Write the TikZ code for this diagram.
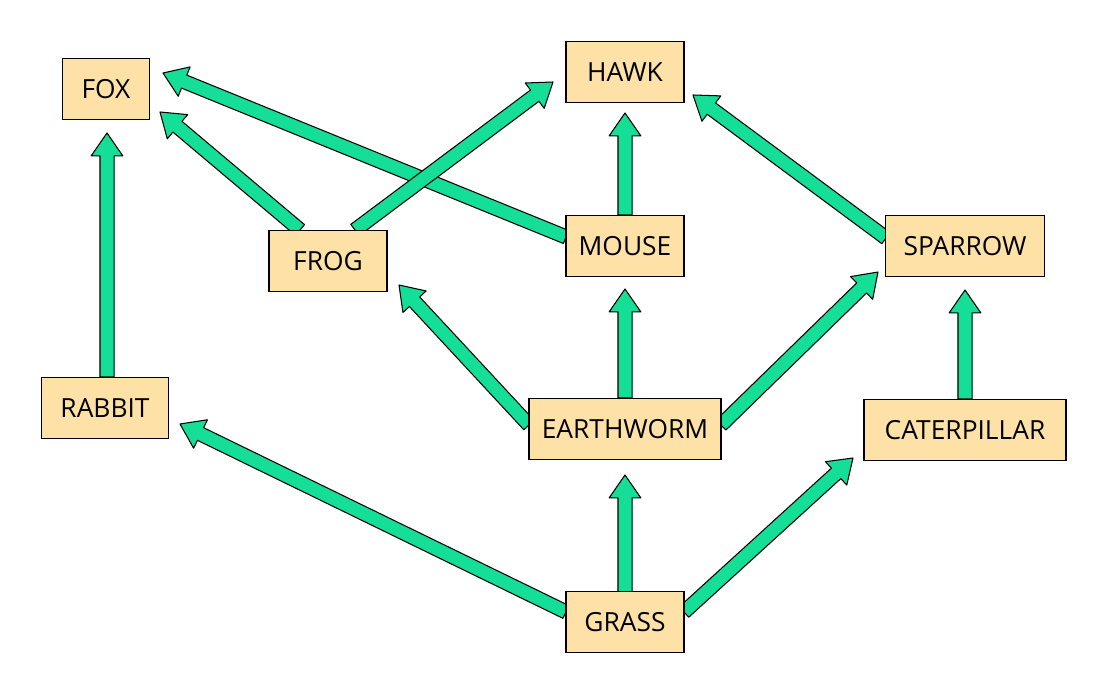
\documentclass[tikz,border=0pt]{standalone}
\usepackage{fontspec}
\setmainfont{Open Sans}
\usetikzlibrary{calc}
\definecolor{arrg}{HTML}{14DE97}
\definecolor{boxy}{HTML}{FDE1A6}
\tikzset{
  box/.style={draw=black, line width=0.6pt, fill=boxy, minimum height=61*0.02cm, inner sep=0pt, font=\fontsize{15}{18}\selectfont},
  arr/.style={fill=arrg, draw=black, line width=0.6pt, line join=round}
}
\newcommand\farrow[2]{%
  \coordinate (q) at ($(#2)!13pt!(#1)$);
  \filldraw[arr] ($(#1)!4pt!-90:(#2)$) -- ($(q)!4pt!90:(#1)$) -- ($(q)!9pt!90:(#1)$) -- (#2) -- ($(q)!9pt!-90:(#1)$) -- ($(q)!4pt!-90:(#1)$) -- ($(#1)!4pt!90:(#2)$) -- cycle;}
\begin{document}
\begin{tikzpicture}[x=0.02cm,y=-0.02cm]
\useasboundingbox (0,0) rectangle (1109,695);
% arrow endpoints
\coordinate (s1) at (107,377); \coordinate (e1) at (107,133);
\coordinate (s2) at (300,230); \coordinate (e2) at (160,112);
\coordinate (s3) at (566,237); \coordinate (e3) at (163,73);
\coordinate (s4) at (355,230); \coordinate (e4) at (553,82);
\coordinate (s5) at (625,215); \coordinate (e5) at (625,113);
\coordinate (s6) at (886,238); \coordinate (e6) at (693,95);
\coordinate (s7) at (529,425); \coordinate (e7) at (399,285);
\coordinate (s8) at (625,398); \coordinate (e8) at (625,289);
\coordinate (s9) at (721,425); \coordinate (e9) at (878,272);
\coordinate (s10) at (965,399); \coordinate (e10) at (965,290);
\coordinate (s11) at (566,612); \coordinate (e11) at (180,424);
\coordinate (s12) at (625,592); \coordinate (e12) at (625,475);
\coordinate (s13) at (684,612); \coordinate (e13) at (853,458);
\foreach \i in {1,...,13} {\farrow{s\i}{e\i}}
% boxes
\node[box, minimum width=87*0.02cm] (fox) at (106,89) {FOX};
\node[box, minimum width=118*0.02cm] (hawk) at (625,72) {HAWK};
\node[box, minimum width=118*0.02cm] (frog) at (328,261) {FROG};
\node[box, minimum width=118*0.02cm] (mouse) at (625,246) {MOUSE};
\node[box, minimum width=159*0.02cm] (sparrow) at (965,246) {SPARROW};
\node[box, minimum width=127*0.02cm] (rabbit) at (105,408) {RABBIT};
\node[box, minimum width=192*0.02cm] (earthworm) at (625,429) {EARTHWORM};
\node[box, minimum width=202*0.02cm] (caterpillar) at (965,430) {CATERPILLAR};
\node[box, minimum width=118*0.02cm] (grass) at (625,622) {GRASS};
\end{tikzpicture}
\end{document}
